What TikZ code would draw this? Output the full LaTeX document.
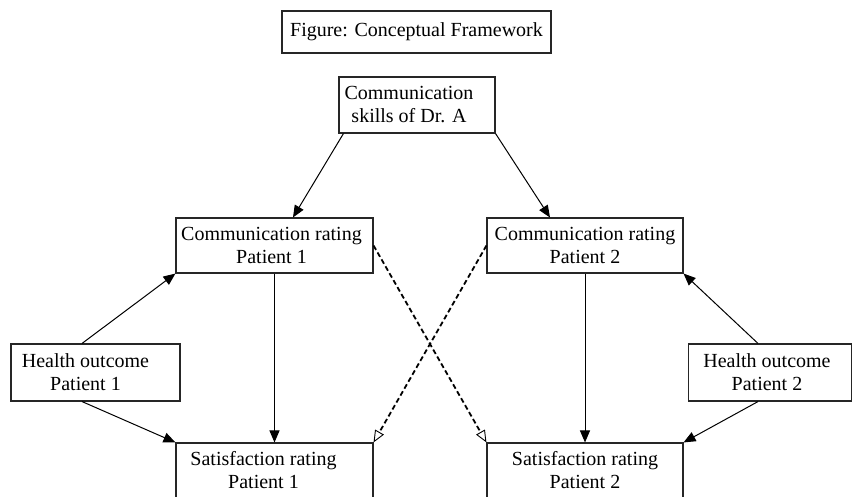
\documentclass[tikz,border=0pt]{standalone}
\usepackage{fontspec}
\setmainfont{Liberation Serif}
\usetikzlibrary{arrows.meta}
\begin{document}
\begin{tikzpicture}[x=1pt,y=-1pt,
  box/.style={draw=black!85, line width=1.1pt, rectangle, inner sep=0pt, align=center,
    font=\fontsize{20pt}{23pt}\selectfont, text=black},
  conn/.style={line width=1pt, -{Triangle[length=12pt,width=10pt]}},
  dconn/.style={line width=1.8pt, dash pattern=on 5pt off 3pt,
    -{Triangle[open,length=12pt,width=10pt,line width=0.9pt]}}]
\clip (0,0) rectangle (852,496);
\useasboundingbox (0,0) rectangle (852,496);
\fill[white] (0,0) rectangle (852,496);

\node[box, minimum width=269pt, minimum height=42pt] (title) at (416.5,32) {Figure: Conceptual Framework};
\node[box, minimum width=156pt, minimum height=56pt] (skills) at (417,105) {Communication\hspace*{16pt}\\skills of Dr. A\hspace*{16pt}};
\node[box, minimum width=197pt, minimum height=55pt] (cr1) at (274.5,245.5) {Communication rating\hspace*{6pt}\\Patient 1\hspace*{6pt}};
\node[box, minimum width=196pt, minimum height=55pt] (cr2) at (585,245.5) {Communication rating\\Patient 2};
\node[box, minimum width=197pt, minimum height=55pt] (sr1) at (274.5,470.5) {Satisfaction rating\hspace*{22pt}\\Patient 1\hspace*{22pt}};
\node[box, minimum width=196pt, minimum height=55pt] (sr2) at (585,470.5) {Satisfaction rating\\Patient 2};
\node[box, minimum width=169pt, minimum height=57pt] (hp1) at (95.5,372.5) {Health outcome\hspace*{20pt}\\Patient 1\hspace*{20pt}};
\node[box, minimum width=163pt, minimum height=57pt] (hp2) at (770,372.5) {Health outcome\hspace*{6pt}\\Patient 2\hspace*{6pt}};

\draw[conn] ([xshift=5pt]skills.south west) -- ([xshift=18.5pt]cr1.north);
\draw[conn] (skills.south east) -- ([xshift=-35pt]cr2.north);
\draw[conn] (cr1.south) -- (sr1.north);
\draw[conn] (cr2.south) -- (sr2.north);
\draw[conn] ([xshift=-13.5pt]hp1.north) -- (cr1.south west);
\draw[conn] ([xshift=-13.5pt]hp1.south) -- (sr1.north west);
\draw[conn] ([xshift=-12pt]hp2.north) -- (cr2.south east);
\draw[conn] ([xshift=-12pt]hp2.south) -- (sr2.north east);
\draw[dconn] (cr1.east) -- (sr2.north west);
\draw[dconn] (cr2.west) -- (sr1.north east);
\end{tikzpicture}
\end{document}
